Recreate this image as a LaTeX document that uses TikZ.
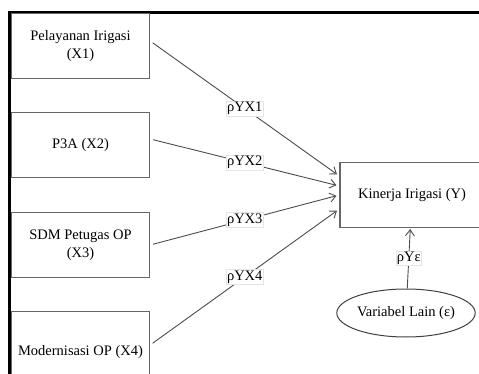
\documentclass[tikz,border=0pt]{standalone}
\usepackage{fontspec}
\setmainfont{Liberation Serif}
\usetikzlibrary{arrows.meta,shapes.geometric}

\tikzset{
  txt/.style={font=\fontsize{14.5}{18}\selectfont},
  varbox/.style={txt, draw=black!60, line width=1.3pt, minimum width=138pt,
    minimum height=65pt, align=center, inner sep=0pt},
  latent/.style={txt, ellipse, draw=black!75, line width=1pt, minimum width=110pt,
    minimum height=48pt, inner sep=0pt},
  pathline/.style={draw=black!70, line width=0.9pt, shorten <=3pt, shorten >=3pt,
    -{Straight Barb[length=6pt,width=9pt]}},
  coef/.style={txt, fill=white, draw=black!10, line width=0.4pt, inner sep=1pt}
}

\begin{document}
\begin{tikzpicture}[x=1pt,y=-1pt]
  \useasboundingbox (0,0) rectangle (479,374);
  %% frame
  \draw[line width=3pt] (9.5,374) -- (9.5,12.5) -- (479,12.5);

  \node (X1) at (80.5,46) [varbox] {Pelayanan Irigasi\\(X1)};
  \node (X2) at (80.5,145) [varbox] {P3A (X2)};
  \node (X3) at (80.5,245) [varbox] {SDM Petugas OP\\(X3)};
  \node (X4) at (80.5,352) [varbox, minimum height=81pt] {Modernisasi OP (X4)};
  \node (Y) at (412,195) [varbox, minimum width=144pt] {Kinerja Irigasi (Y)};
  \node (eps) at (406,313) [latent] {Variabel Lain (ε)};

  \draw[pathline] ([yshift=5pt]X1.east) -- node[coef] {ρYX1} ([yshift=19pt]Y.west);
  \draw[pathline] ([yshift=6pt]X2.east) -- node[coef] {ρYX2} ([yshift=9pt]Y.west);
  \draw[pathline] (X3.east) -- node[coef] {ρYX3} (Y.west);
  \draw[pathline] ([yshift=7pt]X4.east) -- node[coef] {ρYX4} ([yshift=-14pt]Y.west);
  \draw[pathline, shorten <=0pt, shorten >=1pt] (eps) -- node[coef] {ρYε} (Y);
\end{tikzpicture}
\end{document}
